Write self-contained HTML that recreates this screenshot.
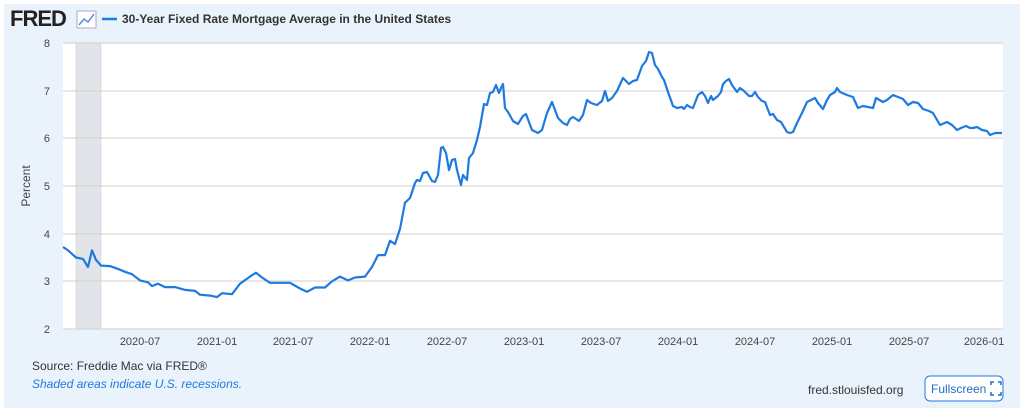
<!DOCTYPE html>
<html><head><meta charset="utf-8"><style>
body{margin:0;width:1024px;height:417px;background:#fff;font-family:"Liberation Sans",sans-serif;overflow:hidden}
.panel{position:absolute;left:4px;top:4px;width:1016px;height:404px;background:#eaf3fb}
svg{position:absolute;left:0;top:0}
</style></head><body>
<div class="panel"></div>
<svg width="1024" height="417" xmlns="http://www.w3.org/2000/svg">
<text x="10" y="26" font-family="Liberation Sans" font-weight="bold" font-size="22" fill="#222" letter-spacing="-1">FRED</text>
<rect x="77" y="11" width="19" height="17" fill="#fff" stroke="#aac" stroke-width="1"/>
<polyline points="79,25 84,19 88,22 94,14" fill="none" stroke="#5b8fd6" stroke-width="1.5"/>
<line x1="102" y1="19" x2="117" y2="19" stroke="#1f7ae0" stroke-width="2.5"/>
<text x="122" y="23" font-size="12" font-weight="bold" fill="#333">30-Year Fixed Rate Mortgage Average in the United States</text>
<rect x="63" y="43" width="940" height="286" fill="#fff"/>
<rect x="76" y="43" width="25" height="286" fill="#e1e5e9" stroke="#c8ccd0" stroke-width="0.5"/>
<g stroke="#cfcfcf" stroke-width="1">
<line x1="63" y1="43" x2="1003" y2="43"/><line x1="63" y1="91" x2="1003" y2="91"/>
<line x1="63" y1="138" x2="1003" y2="138"/><line x1="63" y1="186" x2="1003" y2="186"/>
<line x1="63" y1="234" x2="1003" y2="234"/><line x1="63" y1="281" x2="1003" y2="281"/>
<line x1="63" y1="329" x2="1003" y2="329"/>
</g>
<g font-size="11" fill="#444" text-anchor="end">
<text x="50" y="47">8</text><text x="50" y="95">7</text><text x="50" y="142">6</text><text x="50" y="190">5</text><text x="50" y="238">4</text><text x="50" y="285">3</text><text x="50" y="333">2</text>
</g>
<text transform="translate(30,186) rotate(-90)" font-size="12" fill="#444" text-anchor="middle">Percent</text>
<g font-size="11" fill="#444" text-anchor="middle">
<text x="140" y="345">2020-07</text><text x="217" y="345">2021-01</text><text x="293" y="345">2021-07</text><text x="370" y="345">2022-01</text><text x="447" y="345">2022-07</text><text x="524" y="345">2023-01</text><text x="601" y="345">2023-07</text><text x="678" y="345">2024-01</text><text x="755" y="345">2024-07</text><text x="832" y="345">2025-01</text><text x="909" y="345">2025-07</text><text x="984" y="345">2026-01</text>
</g>
<polyline id="ln" fill="none" stroke="#1f7ae0" stroke-width="2.2" stroke-linejoin="round"/>
<text x="32" y="370" font-size="12" fill="#333">Source: Freddie Mac via FRED®</text>
<text x="32" y="388" font-size="12" font-style="italic" fill="#1f7ae0">Shaded areas indicate U.S. recessions.</text>
<text x="808" y="394" font-size="12" fill="#333">fred.stlouisfed.org</text>
<rect x="925" y="376" width="78" height="25" rx="5" fill="#fff" stroke="#1f7ae0"/>
<text x="931" y="393" font-size="12" fill="#1f6fc5">Fullscreen</text>
<path d="M991 385v-3h3M998 382h3v3M1001 392v3h-3M994 395h-3v-3" fill="none" stroke="#1f6fc5" stroke-width="1.5"/>
</svg>
<script>
function y(v){return 329-(v-2)*47.67;}
var L=[[63,3.72],[68,3.65],[76,3.5],[83,3.47],[88,3.3],[92,3.65],[96,3.45],[101,3.33],[110,3.32],[118,3.26],[125,3.2],[132,3.15],[140,3.02],[148,2.98],[152,2.9],[158,2.95],[165,2.88],[175,2.88],[185,2.82],[195,2.8],[200,2.72],[210,2.7],[217,2.67],[222,2.75],[232,2.73],[240,2.95],[250,3.1],[256,3.18],[262,3.08],[270,2.97],[280,2.97],[290,2.97],[300,2.85],[307,2.78],[315,2.87],[325,2.87],[332,3.0],[340,3.1],[348,3.02],[355,3.08],[365,3.1],[372,3.3],[378,3.55],[385,3.55],[390,3.85],[395,3.78],[400,4.1],[405,4.65]];
var M=[[410,198],[415,183],[417,180],[420,181],[423,173],[427,172],[432,181],[435,182],[438,175],[441,148],[443,147],[446,153],[449,170],[452,160],[455,159],[457,170],[461,185],[463,175],[467,180],[469,158],[473,153],[477,140],[480,127],[484,104],[487,105],[490,93],[493,92],[496,85],[499,93],[501,88],[503,84],[505,108],[508,112],[513,121],[518,124],[523,116],[526,114],[532,130],[538,133],[542,130],[547,113],[552,102],[558,118],[563,123],[567,125],[570,119],[573,117],[579,121],[583,115],[587,100],[591,103],[597,105],[602,101],[605,91],[608,101],[612,98],[617,91],[623,78],[629,84],[633,81],[637,80],[642,66],[646,61],[649,52],[652,53],[655,65],[658,69],[662,77],[664,80],[668,92],[673,106],[677,108],[682,107],[684,109],[687,105],[690,107],[693,108],[698,95],[702,92],[705,96],[708,103],[711,96],[713,100],[718,96],[721,92],[723,84],[726,81],[729,79],[732,85],[737,92],[740,88],[744,91],[749,96],[752,96],[755,92],[758,97],[762,101],[765,102],[770,115],[773,114],[777,120],[781,122],[787,132],[790,133],[793,132],[797,123],[802,113],[807,102],[811,100],[815,98],[818,103],[823,109],[827,100],[830,95],[835,92],[837,88],[840,92],[847,95],[853,97],[858,108],[863,106],[868,107],[873,108],[876,98],[883,102],[887,100],[893,95],[898,97],[903,99],[908,105],[913,102],[918,103],[923,109],[929,111],[933,113],[940,125],[947,122],[952,125],[957,130],[961,128],[966,126],[970,128],[973,128],[977,127],[982,130],[987,131],[990,135],[995,133],[1002,133]];
var p=[];L.forEach(function(a){p.push(a[0]+","+y(a[1]).toFixed(1))});M.forEach(function(a){p.push(a[0]+","+a[1])});
document.getElementById("ln").setAttribute("points",p.join(" "));
</script>
</body></html>
